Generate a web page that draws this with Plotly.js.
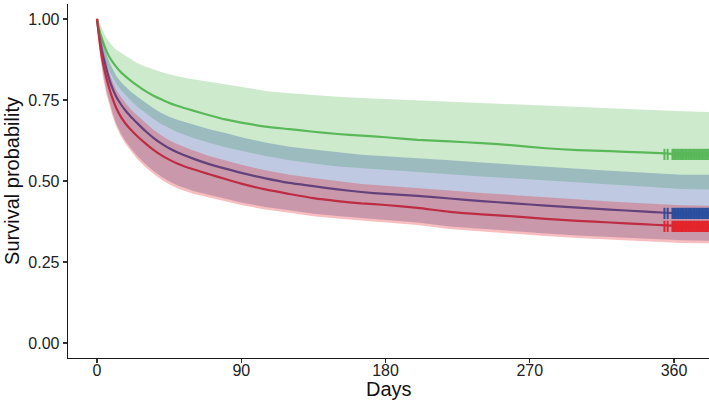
<!DOCTYPE html>
<html>
<head>
<meta charset="utf-8">
<script src="https://cdn.plot.ly/plotly-3.0.1.min.js"></script>
<style>
  html, body { margin: 0; padding: 0; background: #ffffff; }
  #chart { width: 709px; height: 406px; }
</style>
</head>
<body>
<div id="chart"></div>
<script>
// Follow-up time grid (days)
const days = [0,1,2,3,4,6,8,10,12,15,18,21,25,30,35,40,45,50,60,70,80,90,105,120,135,150,165,180,200,220,240,260,280,300,320,340,355,365,382];

// Kaplan-Meier estimates and 95% confidence limits per group
const greenSurv = [1.000,0.975,0.955,0.940,0.925,0.900,0.880,0.865,0.852,0.835,0.822,0.810,0.795,0.778,0.764,0.752,0.741,0.732,0.717,0.703,0.690,0.680,0.668,0.660,0.652,0.645,0.640,0.635,0.627,0.622,0.617,0.610,0.601,0.595,0.592,0.588,0.585,0.582,0.582];
const greenUpper = [1.000,0.995,0.985,0.972,0.960,0.940,0.925,0.914,0.905,0.895,0.885,0.876,0.864,0.853,0.844,0.836,0.829,0.823,0.814,0.806,0.797,0.788,0.778,0.771,0.765,0.760,0.756,0.753,0.749,0.745,0.740,0.735,0.731,0.727,0.723,0.720,0.717,0.715,0.713];
const greenLower = [1.000,0.950,0.925,0.905,0.888,0.860,0.836,0.818,0.800,0.780,0.763,0.748,0.730,0.710,0.692,0.676,0.663,0.651,0.633,0.618,0.604,0.592,0.577,0.564,0.554,0.545,0.538,0.533,0.528,0.521,0.514,0.507,0.500,0.494,0.488,0.482,0.478,0.475,0.474];

const blueSurv = [1.000,0.960,0.930,0.905,0.882,0.843,0.808,0.782,0.760,0.736,0.716,0.699,0.679,0.655,0.634,0.616,0.601,0.589,0.569,0.552,0.538,0.525,0.508,0.494,0.484,0.474,0.466,0.460,0.454,0.446,0.438,0.431,0.424,0.418,0.412,0.406,0.402,0.400,0.400];
const blueUpper = [1.000,0.972,0.952,0.935,0.919,0.890,0.863,0.842,0.824,0.805,0.789,0.776,0.761,0.742,0.725,0.710,0.698,0.689,0.674,0.660,0.648,0.635,0.619,0.606,0.597,0.588,0.581,0.576,0.571,0.564,0.557,0.550,0.544,0.538,0.532,0.526,0.521,0.519,0.519];
const blueLower = [1.000,0.940,0.892,0.858,0.828,0.777,0.738,0.705,0.677,0.646,0.622,0.602,0.578,0.553,0.532,0.514,0.499,0.487,0.469,0.456,0.445,0.434,0.420,0.410,0.399,0.392,0.386,0.381,0.372,0.360,0.352,0.346,0.338,0.332,0.327,0.322,0.319,0.317,0.316];

const redSurv = [1.000,0.955,0.915,0.885,0.858,0.815,0.780,0.750,0.725,0.697,0.676,0.659,0.639,0.617,0.597,0.580,0.566,0.554,0.536,0.521,0.506,0.492,0.474,0.460,0.447,0.438,0.431,0.426,0.417,0.405,0.397,0.391,0.383,0.377,0.372,0.367,0.363,0.361,0.360];
const redUpper = [1.000,0.975,0.950,0.926,0.903,0.864,0.829,0.803,0.781,0.758,0.738,0.721,0.703,0.680,0.659,0.641,0.626,0.614,0.594,0.577,0.563,0.550,0.533,0.519,0.509,0.499,0.491,0.485,0.479,0.471,0.463,0.456,0.449,0.443,0.437,0.431,0.427,0.425,0.424];
const redLower = [1.000,0.930,0.880,0.845,0.813,0.765,0.728,0.695,0.668,0.637,0.613,0.593,0.569,0.544,0.523,0.505,0.490,0.478,0.461,0.448,0.437,0.426,0.412,0.402,0.391,0.384,0.378,0.373,0.364,0.352,0.344,0.338,0.330,0.324,0.319,0.314,0.311,0.309,0.308];

// Censoring times at the end of follow-up
const censorDays = [354,356,359,360,361,362,363,364,365,366,367,368,369,370,371,372,373,374,375,376,377,378,379,380,381,382,383];

// Axis ticks
const xTicks = [0, 90, 180, 270, 360];
const yTicks = [0, 0.25, 0.5, 0.75, 1];
const yTickText = ["0.00", "0.25", "0.50", "0.75", "1.00"];

const groups = [
  { surv: greenSurv, upper: greenUpper, lower: greenLower, color: "#5BB85A", fill: "rgba(91,184,90,0.30)" },
  { surv: blueSurv,  upper: blueUpper,  lower: blueLower,  color: "#2B4F9E", fill: "rgba(43,79,158,0.30)" },
  { surv: redSurv,   upper: redUpper,   lower: redLower,   color: "#E3242B", fill: "rgba(227,36,43,0.30)" }
];

const traces = [];

// survival curves first, so the confidence ribbons sit over them
groups.forEach(g => {
  traces.push({
    type: "scatter", mode: "lines",
    x: days, y: g.surv,
    line: { color: g.color, width: 2.2, shape: "spline", smoothing: 0.6 },
    hoverinfo: "skip", showlegend: false
  });
});

// confidence ribbons
groups.forEach(g => {
  traces.push({
    type: "scatter", mode: "lines",
    x: days.concat(days.slice().reverse()),
    y: g.upper.concat(g.lower.slice().reverse()),
    fill: "toself", fillcolor: g.fill,
    line: { width: 0, color: "rgba(0,0,0,0)" },
    hoverinfo: "skip", showlegend: false
  });
});

// censoring marks, drawn over the ribbons
groups.forEach(g => {
  const last = g.surv[g.surv.length - 1];
  traces.push({
    type: "scatter", mode: "markers",
    x: censorDays, y: censorDays.map(() => last),
    marker: { symbol: "line-ns-open", size: 8, color: g.color, line: { color: g.color, width: 2 } },
    hoverinfo: "skip", showlegend: false
  });
  traces.push({
    type: "scatter", mode: "lines",
    x: [censorDays[2], censorDays[censorDays.length - 1]], y: [last, last],
    line: { color: g.color, width: 5 },
    hoverinfo: "skip", showlegend: false
  });
});

const font = "Liberation Sans, Arial, Helvetica, sans-serif";

const layout = {
  width: 709, height: 406,
  margin: { l: 68, r: 0, t: 4, b: 48 },
  paper_bgcolor: "#ffffff", plot_bgcolor: "#ffffff",
  showlegend: false,
  xaxis: {
    range: [-18.1, 381.8],
    tickvals: xTicks, ticktext: xTicks.map(String),
    showgrid: false, zeroline: false,
    showline: true, linecolor: "#1a1a1a", linewidth: 1.3,
    ticks: "outside", ticklen: 4, tickwidth: 1.2, tickcolor: "#333333",
    ticklabelstandoff: -7,
    tickfont: { family: font, size: 16, color: "#222222" }
  },
  yaxis: {
    range: [-0.046, 1.046],
    tickvals: yTicks, ticktext: yTickText,
    showgrid: false, zeroline: false,
    showline: true, linecolor: "#1a1a1a", linewidth: 1.3,
    ticks: "outside", ticklen: 4, tickwidth: 1.2, tickcolor: "#333333",
    tickfont: { family: font, size: 16, color: "#222222" },
    title: { text: "Survival probability", font: { family: font, size: 20, color: "#111111" }, standoff: 3 }
  },
  annotations: [{
    text: "Days", showarrow: false,
    xref: "paper", x: 0.5, xanchor: "center",
    yref: "paper", y: -0.087, yanchor: "middle",
    font: { family: font, size: 20, color: "#111111" }
  }]
};

Plotly.newPlot("chart", traces, layout, { staticPlot: true, displayModeBar: false });
</script>
</body>
</html>
